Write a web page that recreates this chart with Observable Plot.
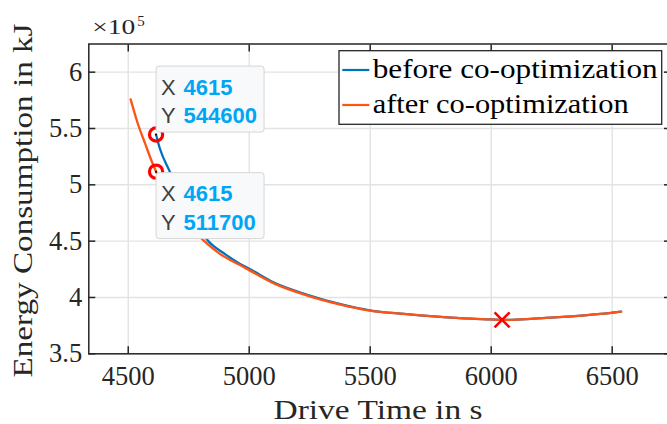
<!DOCTYPE html>
<html>
<head>
<meta charset="utf-8">
<script src="https://cdn.jsdelivr.net/npm/d3@7"></script>
<script src="https://cdn.jsdelivr.net/npm/@observablehq/plot@0.6"></script>
<style>
  html, body { margin: 0; padding: 0; background: #fff; overflow: hidden; }
  #chart svg { display: block; }
</style>
</head>
<body>
<div id="chart"></div>
<script>
// ---- data ----
const beforeTime   = [4615, 4631, 4668, 4700, 4750, 4790, 4829, 4900, 4964, 4998, 5102, 5240, 5377, 5498, 5639, 5777, 5915, 5997, 6052, 6176, 6314, 6452, 6537];
const beforeEnergy = [544600, 532000, 513500, 498500, 477000, 462500, 450500, 438500, 429500, 425700, 413200, 402400, 394100, 388600, 385400, 383000, 381200, 380600, 380100, 381200, 383000, 385400, 387500];
const afterTime    = [4510, 4540, 4570, 4595, 4615, 4650, 4700, 4750, 4812, 4880, 4964, 4998, 5102, 5240, 5377, 5498, 5639, 5777, 5915, 5997, 6052, 6176, 6314, 6452, 6537];
const afterEnergy  = [575800, 554000, 536500, 522000, 511700, 495000, 477000, 464000, 450500, 438500, 428500, 424500, 412500, 401700, 393700, 388400, 385400, 383000, 381200, 380600, 380100, 381200, 383000, 385400, 387500];
const tipTime   = [4615, 4615];
const tipEnergy = [544600, 511700];
const minTime   = [6045];
const minEnergy = [380100];
const seriesNames = ["before co-optimization", "after co-optimization"];
const xTicks = [4500, 5000, 5500, 6000, 6500];
const yTicks = [350000, 400000, 450000, 500000, 550000, 600000];
const xLabel = "Drive Time in s";
const yLabel = "Energy Consumption in kJ";
const expLabel = ["\u00d710", "5"];

// ---- styling ----
const serif = "'Liberation Serif', 'Times New Roman', serif";
const sans = "'Liberation Sans', Arial, Helvetica, sans-serif";
const axisColor = "#262626";
const colors = ["#0072BD", "#FF5314"];
const gridColor = "#e3e3e3";

const before = beforeTime.map((t, i) => ({t, e: beforeEnergy[i]}));
const after = afterTime.map((t, i) => ({t, e: afterEnergy[i]}));
const tips = tipTime.map((t, i) => ({t, e: tipEnergy[i]}));
const mins = minTime.map((t, i) => ({t, e: minEnergy[i]}));

function datatip(i, below) {
  return (index, scales) => {
    const px = scales.x(tipTime[i]), py = scales.y(tipEnergy[i]);
    const g = d3.create("svg:g").attr("text-anchor", "start");
    const bx = px + 0.5, by = below ? py + 1.5 : py - 68;
    g.append("rect").attr("x", bx).attr("y", by).attr("width", 108).attr("height", 66)
      .attr("rx", 3).attr("fill", "#f8f9fb").attr("stroke", "#d6d6d6").attr("stroke-width", 1);
    const rows = [["X", String(tipTime[i])], ["Y", String(tipEnergy[i])]];
    rows.forEach(([k, v], r) => {
      const yb = by + 28.5 + r * 28.5;
      g.append("text").attr("x", bx + 5).attr("y", yb).attr("font-family", sans)
        .attr("font-size", 22).attr("fill", "#404040").attr("text-anchor", "start").text(k);
      g.append("text").attr("x", bx + 27.5).attr("y", yb).attr("font-family", sans)
        .attr("font-size", 22).attr("font-weight", "bold").attr("fill", "#00A6F4")
        .attr("text-anchor", "start").text(v);
    });
    return g.node();
  };
}

function legend() {
  return () => {
    const g = d3.create("svg:g").attr("text-anchor", "start");
    g.append("rect").attr("x", 339).attr("y", 50.7).attr("width", 322.7).attr("height", 73.6)
      .attr("fill", "#fff").attr("stroke", axisColor).attr("stroke-width", 1.3);
    seriesNames.forEach((name, i) => {
      const ly = 70 + i * 35;
      g.append("line").attr("x1", 342.3).attr("x2", 369.3).attr("y1", ly).attr("y2", ly)
        .attr("stroke", colors[i]).attr("stroke-width", 2.2);
      g.append("text").attr("x", 372.7).attr("y", ly + 7.5).attr("font-family", serif)
        .attr("font-size", 27).attr("fill", "#000").attr("text-anchor", "start")
        .attr("textLength", i === 0 ? 285 : 256).attr("lengthAdjust", "spacingAndGlyphs")
        .text(name);
    });
    return g.node();
  };
}

const chart = Plot.plot({
  width: 667,
  height: 424,
  marginLeft: 88.3,
  marginRight: -3,
  marginTop: 43.5,
  marginBottom: 70.7,
  x: {domain: [4337, 6741]},
  y: {domain: [350000, 625000]},
  style: {background: "#fff", overflow: "hidden"},
  marks: [
    Plot.gridX(xTicks, {stroke: gridColor, strokeOpacity: 1, strokeWidth: 1.4}),
    Plot.gridY(yTicks, {stroke: gridColor, strokeOpacity: 1, strokeWidth: 1.4}),
    Plot.line(before, {x: "t", y: "e", stroke: colors[0], strokeWidth: 2.3, curve: "monotone-x"}),
    Plot.line(after, {x: "t", y: "e", stroke: colors[1], strokeWidth: 2.3, curve: "monotone-x"}),
    Plot.dot(mins, {x: "t", y: "e", symbol: "times", r: 6.9, stroke: "#FF0000", strokeWidth: 2.6}),
    Plot.dot(tips, {x: "t", y: "e", r: 6.6, stroke: "#FF0000", strokeWidth: 3.2, fill: "none"}),
    Plot.dot(tips, {x: "t", y: "e", r: 1, fill: "#000", stroke: null}),
    datatip(0, false),
    datatip(1, true),
    Plot.frame({stroke: axisColor, strokeWidth: 1.5}),
    Plot.axisX(xTicks, {anchor: "bottom", tickSize: -7, tickFormat: () => "", label: null, stroke: axisColor, strokeWidth: 1.5}),
    Plot.axisX(xTicks, {anchor: "top", tickSize: -7, tickFormat: () => "", label: null, stroke: axisColor, strokeWidth: 1.5}),
    Plot.axisY(yTicks, {anchor: "left", tickSize: -7, tickFormat: () => "", label: null, stroke: axisColor, strokeWidth: 1.5}),
    Plot.axisY(yTicks, {anchor: "right", tickSize: -7, tickFormat: () => "", label: null, stroke: axisColor, strokeWidth: 1.5}),
    Plot.axisX(xTicks, {anchor: "bottom", tickSize: 0, tickPadding: 12.2, label: null, fontSize: 26.5, fontFamily: serif, fill: axisColor, tickFormat: d => String(d)}),
    Plot.axisY(yTicks, {anchor: "left", tickSize: 0, tickPadding: 6.6, label: null, fontSize: 26.5, fontFamily: serif, fill: axisColor, tickFormat: d => String(d / 1e5)}),
    Plot.text([xLabel], {frameAnchor: "bottom-left", dx: 184.7, dy: 56.4, textAnchor: "start", lineAnchor: "middle", fontSize: 27, fontFamily: serif, fill: axisColor}),
    Plot.text([yLabel], {frameAnchor: "bottom-left", rotate: -90, dx: -65.2, dy: 23.7, textAnchor: "start", lineAnchor: "middle", fontSize: 27, fontFamily: serif, fill: axisColor}),
    Plot.text([expLabel[0]], {frameAnchor: "top-left", dx: 3.4, dy: -16.8, textAnchor: "start", lineAnchor: "middle", fontSize: 20.5, fontFamily: serif, fill: axisColor}),
    Plot.text([expLabel[1]], {frameAnchor: "top-left", dx: 48.4, dy: -23.3, textAnchor: "start", lineAnchor: "middle", fontSize: 15, fontFamily: serif, fill: axisColor}),
    legend()
  ]
});

document.getElementById("chart").appendChild(chart);

// stretch serif labels to match the reference's (Computer Modern) widths
const fit = {};
fit[xLabel] = 209;
fit[yLabel] = 354;
fit[expLabel[0]] = 43;
d3.select(chart).selectAll("text").each(function() {
  const t = this.textContent;
  if (fit[t] != null) {
    d3.select(this).attr("textLength", fit[t]).attr("lengthAdjust", "spacingAndGlyphs");
  }
});
</script>
</body>
</html>
